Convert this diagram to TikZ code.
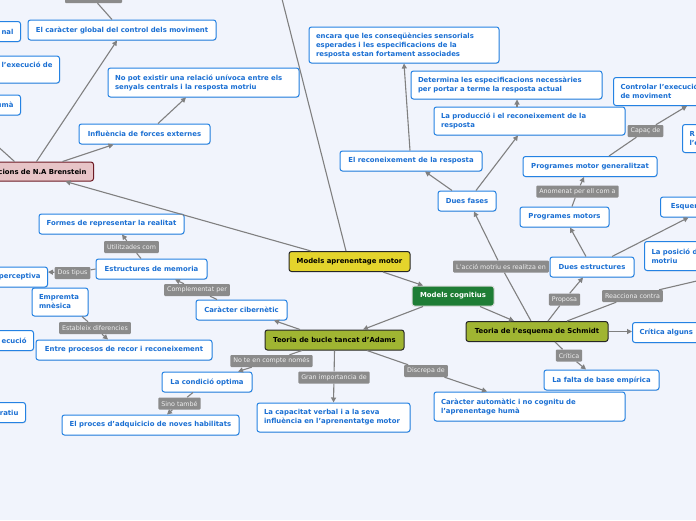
\documentclass[tikz,border=0pt]{standalone}
\usepackage{fontspec}
\setmainfont{DejaVu Sans}
\usetikzlibrary{arrows.meta,shadows}

\definecolor{bgcol}{HTML}{F1F4FC}
\definecolor{ideablue}{HTML}{2482E3}
\definecolor{ideatext}{HTML}{1A6FD3}
\definecolor{taggray}{HTML}{8B8B8B}
\definecolor{tagtext}{HTML}{EFEFEF}
\definecolor{linkgray}{HTML}{808080}
\definecolor{yellowtopic}{HTML}{E4D42C}
\definecolor{greentopic}{HTML}{1E7D35}
\definecolor{olivetopic}{HTML}{A0B532}
\definecolor{pinktopic}{HTML}{E7C4C7}
\definecolor{pinkborder}{HTML}{6D1B25}

\newcommand{\ideafont}{\fontsize{6.9}{9}\selectfont\bfseries}
\newcommand{\tagfont}{\fontsize{6.35}{7}\selectfont}

\tikzset{
  idea/.style={draw=ideablue, fill=white, rounded corners=2.5pt, line width=1pt,
    text=ideatext, font=\ideafont, inner xsep=7pt, inner ysep=2pt, minimum height=20pt,
    drop shadow={shadow xshift=0.6pt, shadow yshift=-0.8pt, opacity=0.2}},
  topic/.style={draw=black!85, rounded corners=2.5pt, line width=1pt, font=\ideafont,
    inner xsep=7pt, inner ysep=2pt, minimum height=20pt},
  tag/.style={fill=taggray, text=tagtext, font=\tagfont, inner xsep=3pt, inner ysep=0pt,
    minimum height=12pt, rounded corners=1pt},
  link/.style={draw=linkgray, line width=1.1pt},
  arr/.style={link, -{Triangle[length=5pt,width=5pt]}}
}

\begin{document}
\begin{tikzpicture}[x=1pt, y=-1pt]
    % fons i retall
    \fill[bgcol] (0,0) rectangle (696,520);
    \useasboundingbox (0,0) rectangle (696,520);
    \clip (0,0) rectangle (696,520);
    \coordinate (root) at (281,-5);
    \coordinate (offbr) at (-37,115);

    % temes centrals
    \node[topic, fill=yellowtopic, minimum width=121pt] (aprenentage) at (349.5,261.5) {Models aprenentage motor};
    \node[topic, fill=greentopic, draw=white!85!black, text=white, minimum width=82pt] (cognitius) at (453,296) {Models cognitius};
    \node[topic, fill=olivetopic, minimum width=139pt] (adams) at (334.5,340) {Teoria de bucle tancat d'Adams};
    \node[topic, fill=olivetopic, minimum width=142pt] (schmidt) at (537,331.5) {Teoria de l'esquema de Schmidt};
    \node[topic, fill=pinktopic, draw=pinkborder, anchor=east, text width=140pt, align=right, minimum height=19pt] (brenstein) at (94,171.5) {cions de N.A Brenstein};

    % idees, part esquerra
    \node[idea, anchor=east, text width=80pt, align=right] (nal) at (21,31.5) {nal};
    \node[idea, anchor=east, text width=140pt, align=right, minimum height=27pt] (execucio) at (60,69.5) {l'execució de\\\mbox{}};
    \node[idea, anchor=east, text width=80pt, align=right] (huma) at (21,105) {umà};
    \node[idea, anchor=east, text width=80pt, align=right] (perceptiva) at (48,277) {perceptiva};
    \node[idea, anchor=east, text width=80pt, align=right] (ecucio) at (34,340.5) {ecució};
    \node[idea, anchor=east, text width=80pt, align=right] (ratiu) at (26,412.5) {ratiu};
    \node[idea, minimum width=188pt] (caracter) at (122,30) {El caràcter global del control dels moviment};
    \node[idea, text width=177pt, align=left, minimum height=29pt] (nopot) at (203.5,82.5) {No pot existir una relació unívoca entre els\\senyals centrals i la resposta motriu};
    \node[idea, minimum width=131pt] (influencia) at (144.5,134) {Influència de forces externes};
    \node[idea, minimum width=145pt] (formes) at (111.5,224) {Formes de representar la realitat};
    \node[idea, minimum width=111pt] (estmem) at (151.5,269) {Estructures de memoria};
    \node[idea, text width=42pt, align=left, minimum height=28pt] (empremta) at (60,302) {Empremta\\mnèsica};
    \node[idea, minimum width=91pt] (ciber) at (241.5,310) {Caràcter cibernètic};
    \node[idea, minimum width=176pt] (entre) at (124,350) {Entre procesos de recor i reconeixement};
    \node[idea, minimum width=90pt] (condicio) at (207,382) {La condició optima};
    \node[idea, minimum width=177pt] (proces) at (150.5,425) {El proces d'adquicicio de noves habilitats};
    \node[idea, text width=139pt, align=left, minimum height=29pt] (capacitat) at (333.5,417.5) {La capacitat verbal i a la seva\\influència en l'aprenentatge motor};

    % idees, part dreta
    \node[idea, text width=176pt, align=left, minimum height=36pt] (encara) at (404,45) {encara que les conseqüències sensorials\\esperades i les especificacions de la\\resposta estan fortament associades};
    \node[idea, text width=177pt, align=left, minimum height=28pt] (determina) at (506.5,85) {Determina les especificacions necessàries\\per portar a terme la resposta actual};
    \node[idea, text width=177pt, align=left, minimum height=28pt] (produccio) at (529.5,121) {La producció i el reconeixement de la\\resposta};
    \node[idea, minimum width=142pt] (recon) at (411,161) {El reconeixement de la resposta};
    \node[idea, minimum width=58pt] (duesfases) at (467,201) {Dues fases};
    \node[idea, anchor=north west, text width=176pt, align=left, minimum height=28pt] (controlar) at (613,77) {Controlar l'execució\\de moviment};
    \node[idea, anchor=north west, text width=176pt, align=left, minimum height=28pt] (rnode) at (682,124) {R\\l'e};
    \node[idea, minimum width=134pt] (proggen) at (590,166.5) {Programes motor generalitzat};
    \node[idea, minimum width=89pt] (progmotors) at (564.5,217) {Programes motors};
    \node[idea, anchor=west, minimum width=56pt] (esquema) at (660,207) {Esquema};
    \node[idea, anchor=north west, text width=176pt, align=left, minimum height=29pt] (posicio) at (644,241) {La posició de\\motriu};
    \node[idea, minimum width=84pt] (duesestr) at (592,267) {Dues estructures};
    \node[idea, anchor=west, text width=106pt, align=left] (criticaalg) at (632,332.5) {Crítica alguns};
    \node[idea, minimum width=115pt] (falta) at (601.5,380) {La falta de base empírica};
    \node[idea, text width=177pt, align=left, minimum height=29pt] (automatic) at (529.5,406.5) {Caràcter automàtic i no cognitu de\\l'aprenentage humà};

    % etiquetes de les connexions
    \node[tag, minimum width=57pt, minimum height=13pt] (toptag) at (93.5,-3.5) {};
    \node[tag] (capac) at (645.5,131) {Capaç de};
    \node[tag] (anomenat) at (577.5,191.5) {Anomenat per ell com a};
    \node[tag] (accio) at (501,266.5) {L'acció motriu es realitza en};
    \node[tag] (proposa) at (564.5,299.5) {Proposa};
    \node[tag] (reacciona) at (632.5,296) {Reacciona contra};
    \node[tag] (critica) at (569,355.5) {Crítica};
    \node[tag] (utilitzades) at (131.5,247) {Utilitzades com};
    \node[tag] (dos) at (72.5,273) {Dos tipus};
    \node[tag] (complementat) at (197,290) {Complementat per};
    \node[tag] (estableix) at (95,328) {Estableix diferencies};
    \node[tag] (note) at (271.5,361) {No te en compte només};
    \node[tag] (gran) at (334,377.5) {Gran importancia de};
    \node[tag] (discrepa) at (426,371) {Discrepa de};
    \node[tag] (sino) at (179.5,403.5) {Sino també};

    % connexions
    \draw[link] ([xshift=-2pt]brenstein.north) -- (offbr);
    \draw[arr] ([xshift=20pt]brenstein.north) -- ([xshift=-5pt]caracter.south);
    \draw[arr] ([xshift=46pt]brenstein.north) -- ([xshift=-31pt]influencia.south);
    \draw[arr] ([xshift=13.5pt]influencia.north) -- ([xshift=-17.5pt]nopot.south);
    \draw[link] ([xshift=4pt]toptag.south) -- ([xshift=-10pt]caracter.north);
    \draw[arr] ([xshift=-38.5pt]aprenentage.north) -- ([xshift=49pt]brenstein.south);
    \draw[link] ([xshift=-3.5pt]aprenentage.north) -- (root);
    \draw[arr] ([xshift=33.5pt]aprenentage.south) -- ([xshift=-30pt]cognitius.north);
    \draw[arr] ([xshift=-30pt]cognitius.south) -- ([xshift=28.5pt]adams.north);
    \draw[arr] ([xshift=27pt]cognitius.south) -- ([xshift=-23pt]schmidt.north);
    % Schmidt
    \draw[link] ([xshift=-6pt]schmidt.north) -- (accio);
    \draw[arr] (accio) -- ([xshift=7pt]duesfases.south);
    \draw[link] ([xshift=11pt]schmidt.north) -- (proposa);
    \draw[arr] (proposa) -- ([xshift=-9pt]duesestr.south);
    \draw[link] ([xshift=30pt]schmidt.north) -- (reacciona);
    \draw[arr] (reacciona) -- (posicio.south);
    \draw[arr] (schmidt.east) -- (schmidt.east -| criticaalg.west);
    \draw[link] ([xshift=18pt]schmidt.south) -- (critica);
    \draw[arr] (critica) -- ([xshift=-15.5pt]falta.north);
    \draw[arr] ([xshift=-15pt]duesfases.north) -- ([xshift=14pt]recon.south);
    \draw[arr] ([xshift=9pt]duesfases.north) -- ([xshift=-11.5pt]produccio.south);
    \draw[arr] ([xshift=-12.5pt]produccio.north) -- ([xshift=10.5pt]determina.south);
    \draw[arr] ([xshift=-1pt]recon.north) -- (encara.south);
    \draw[arr] ([xshift=-6pt]duesestr.north) -- ([xshift=5.5pt]progmotors.south);
    \draw[arr] ([xshift=20pt]duesestr.north) -- (esquema.south);
    \draw[link] ([xshift=7.5pt]progmotors.north) -- (anomenat);
    \draw[arr] (anomenat) -- ([xshift=-6pt]proggen.south);
    \draw[link] ([xshift=19pt]proggen.north) -- (capac);
    \draw[arr] (capac) -- ([xshift=74pt]controlar.south west);
    % Adams
    \draw[arr] ([xshift=-34.5pt]adams.north) -- ([xshift=32.5pt]ciber.south);
    \draw[link] ([xshift=-24.5pt]ciber.north) -- (complementat);
    \draw[arr] (complementat) -- ([xshift=23.5pt]estmem.south);
    \draw[link] ([xshift=-10.5pt]estmem.north) -- (utilitzades);
    \draw[arr] (utilitzades) -- ([xshift=10.5pt]formes.south);
    \draw[link] (estmem.west) -- (dos);
    \draw[arr] (dos) -- ([yshift=5pt]perceptiva.east);
    \draw[link] ([xshift=22pt]empremta.south) -- (estableix);
    \draw[arr] (estableix) -- ([xshift=-16pt]entre.north);
    \draw[link] ([xshift=-32.5pt]adams.south) -- (note);
    \draw[arr] (note) -- ([xshift=31pt]condicio.north);
    \draw[link] ([xshift=-14pt]condicio.south) -- (sino);
    \draw[arr] (sino) -- ([xshift=16.5pt]proces.north);
    \draw[link] (adams.south) -- (gran);
    \draw[arr] (gran) -- (capacitat.north);
    \draw[link] ([xshift=32.5pt]adams.south) -- (discrepa);
    \draw[arr] (discrepa) -- ([xshift=-42.5pt]automatic.north);
\end{tikzpicture}
\end{document}
